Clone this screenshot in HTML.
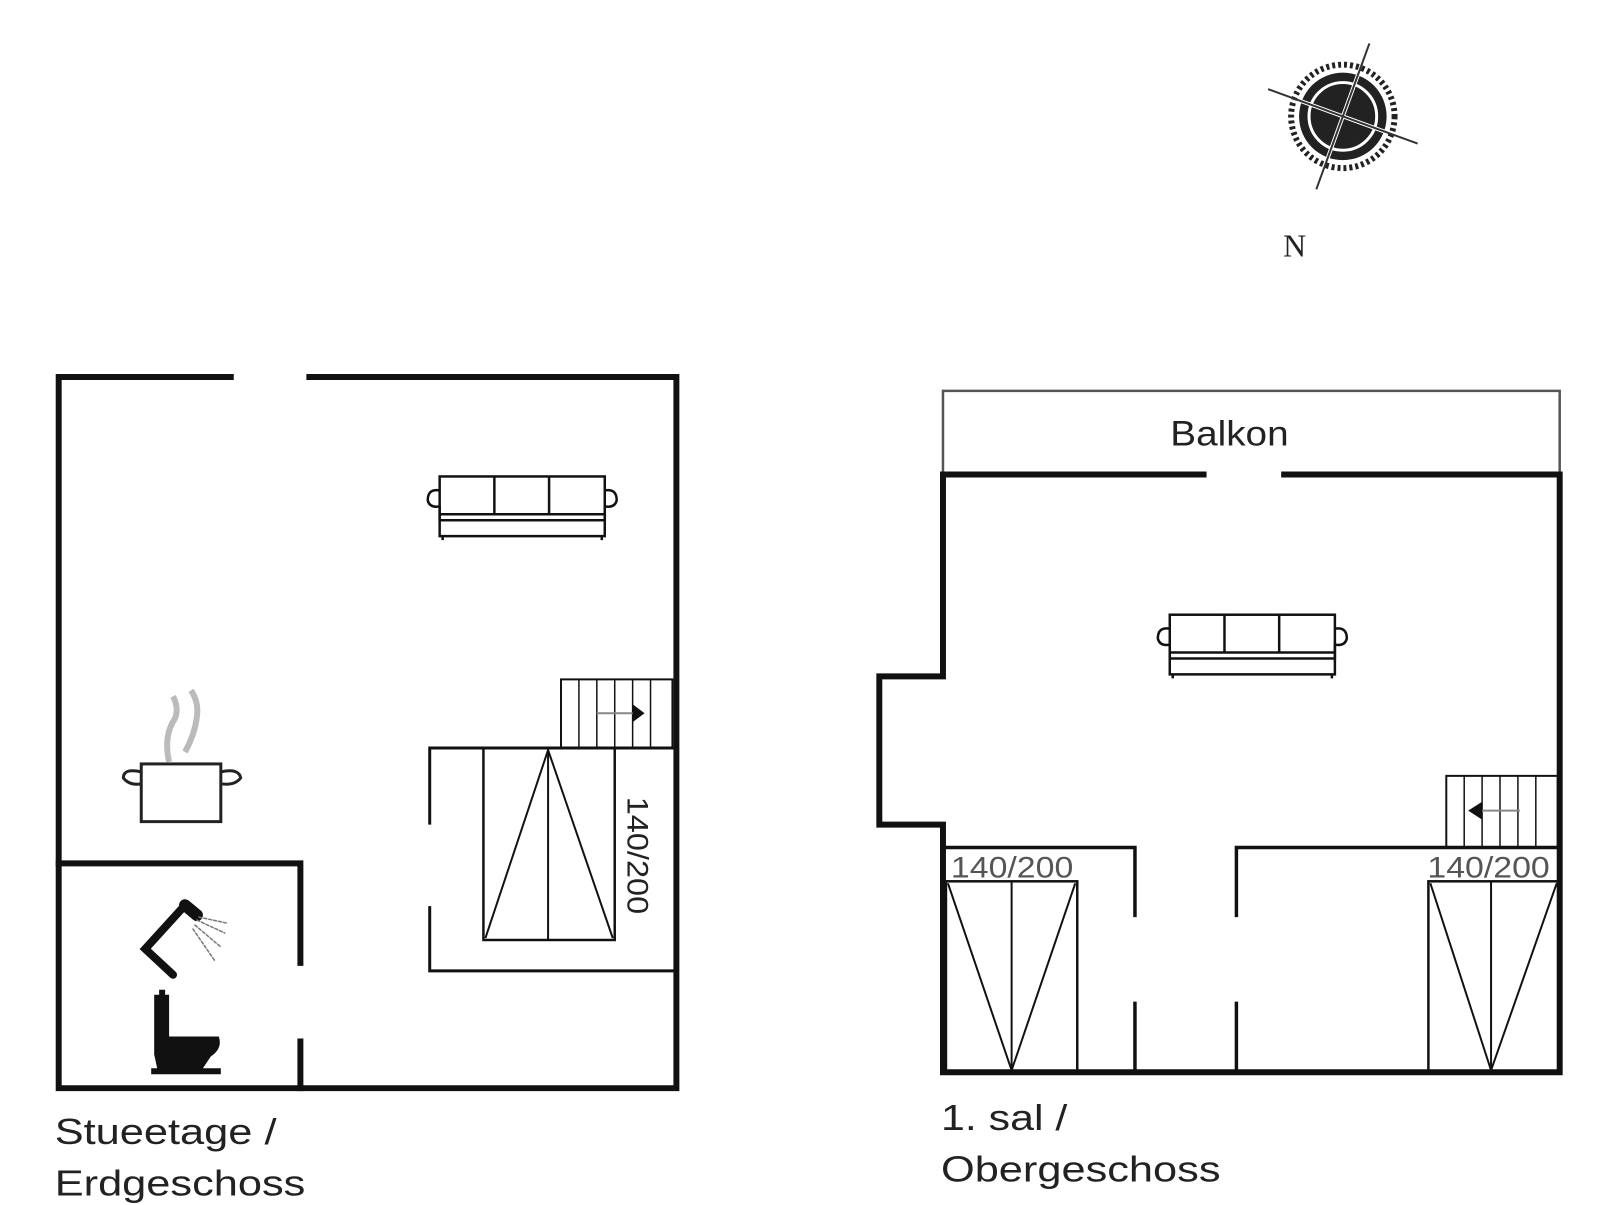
<!DOCTYPE html>
<html><head><meta charset="utf-8"><style>
html,body{margin:0;padding:0;background:#fff}
svg{display:block}
text{font-family:"Liberation Sans",sans-serif}
</style></head><body>
<svg width="1606" height="1205" viewBox="0 0 1606 1205" xmlns="http://www.w3.org/2000/svg">
<defs>
<g id="sofa" fill="none" stroke="#111" stroke-width="2.5">
  <rect x="12" y="0" width="166" height="44"/>
  <line x1="67" y1="0" x2="67" y2="38"/><line x1="122" y1="0" x2="122" y2="38"/>
  <line x1="12" y1="38" x2="178" y2="38"/>
  <path d="M12 14 Q0 12 0 24 Q2 32 12 30 M178 14 Q190 12 190 24 Q188 32 178 30"/>
  <path d="M12 30 L12 60 L178 60 L178 30"/>
  <line x1="15" y1="60" x2="15" y2="64"/><line x1="175" y1="60" x2="175" y2="64"/>
</g>
</defs>
<g transform="scale(0.9947)">
<!-- compass -->
<g transform="translate(1350,117)">
  <circle r="52" fill="none" stroke="#222" stroke-width="6" stroke-dasharray="3 3"/>
  <circle r="44" fill="#222"/>
  <circle r="34" fill="none" stroke="#fff" stroke-width="3"/>
  <g transform="rotate(20)" stroke="#fff" stroke-width="4">
    <line x1="0" y1="-44" x2="0" y2="44"/><line x1="-44" y1="0" x2="44" y2="0"/>
  </g>
  <g transform="rotate(20)" stroke="#333" stroke-width="2">
    <line x1="0" y1="-78" x2="0" y2="78"/><line x1="-80" y1="0" x2="80" y2="0"/>
  </g>
</g>
<text x="1290" y="258" font-size="32" fill="#222" style="font-family:'Liberation Serif',serif">N</text>

<!-- LEFT PLAN -->
<g stroke="#111" stroke-width="6" fill="none" stroke-linecap="square">
  <path d="M232 379 L59 379 L59 1094 L680 1094 L680 379 L311 379"/>
  <path d="M59 868 L302 868 L302 968 M302 1047 L302 1094"/>
</g>
<g stroke="#111" stroke-width="3" fill="none">
  <path d="M432 829 L432 752 L678 752 M432 911 L432 976 L678 976"/>
  <rect x="564" y="683" width="112" height="69" stroke-width="2"/>
  <line x1="582" y1="683" x2="582" y2="752" stroke-width="1.5"/>
  <line x1="600" y1="683" x2="600" y2="752" stroke-width="1.5"/>
  <line x1="618" y1="683" x2="618" y2="752" stroke-width="1.5"/>
  <line x1="636" y1="683" x2="636" y2="752" stroke-width="1.5"/>
  <line x1="654" y1="683" x2="654" y2="752" stroke-width="1.5"/>
  <line x1="600" y1="717" x2="638" y2="717" stroke="#888" stroke-width="2"/>
  <rect x="486" y="752" width="132" height="193" stroke-width="2.5"/>
  <line x1="551" y1="752" x2="551" y2="945" stroke-width="2"/>
  <path d="M488 943 L551 754 L616 943" stroke-width="2"/>
</g>
<polygon points="648,717 636,708 636,726" fill="#111"/>
<text transform="translate(631,801) rotate(90)" font-size="30" fill="#222" textLength="118" lengthAdjust="spacingAndGlyphs">140/200</text>
<use href="#sofa" x="430" y="479"/>
<!-- pot -->
<g stroke="#222" stroke-width="3" fill="none">
  <rect x="142" y="768" width="80" height="58"/>
  <path d="M142 776 Q124 772 124 782 Q130 790 142 788 M222 776 Q240 772 242 782 Q236 790 222 788"/>
  <path d="M170 766 Q164 740 176 722 Q180 712 174 700" stroke="#bbb" stroke-width="6"/>
  <path d="M186 756 Q196 738 198 720 Q200 706 192 694" stroke="#bbb" stroke-width="6"/>
</g>
<!-- shower -->
<g stroke="#111" fill="none" stroke-linecap="round">
  <path d="M174 980 L146 954 L186 910" stroke-width="8"/>
  <path d="M186 910 L198 920" stroke-width="12"/>
  <g stroke="#777" stroke-width="1.5" stroke-dasharray="3 2">
    <line x1="198" y1="925" x2="226" y2="938"/><line x1="196" y1="930" x2="222" y2="952"/>
    <line x1="194" y1="934" x2="216" y2="966"/><line x1="200" y1="922" x2="228" y2="928"/>
  </g>
</g>
<!-- toilet -->
<path d="M155 1000 L170 1000 L170 1042 L220 1042 Q224 1054 212 1062 L204 1074 L222 1074 L222 1080 L152 1080 L152 1074 L158 1074 L155 1060 Z" fill="#111"/>
<rect x="160" y="995" width="6" height="6" fill="#111"/>
<text x="55" y="1150" font-size="36" fill="#222" textLength="223" lengthAdjust="spacingAndGlyphs">Stueetage /</text>
<text x="55" y="1202" font-size="36" fill="#222" textLength="252" lengthAdjust="spacingAndGlyphs">Erdgeschoss</text>

<!-- RIGHT PLAN -->
<g stroke="#555" stroke-width="2.5" fill="none">
  <path d="M948 477 L948 393 L1568 393 L1568 477"/>
</g>
<text x="1236" y="448" font-size="35" fill="#222" text-anchor="middle" textLength="119" lengthAdjust="spacingAndGlyphs">Balkon</text>
<g stroke="#111" stroke-width="6" fill="none" stroke-linecap="square">
  <path d="M1210 477 L948 477 L948 680 L884 680 L884 829 L948 829 L948 1078 L1568 1078 L1568 477 L1291 477"/>
</g>
<g stroke="#111" stroke-width="3.5" fill="none">
  <path d="M948 852 L1141 852 L1141 922 M1141 1007 L1141 1078"/>
  <path d="M1243 922 L1243 852 L1566 852 M1243 1007 L1243 1078"/>
</g>
<use href="#sofa" x="1164" y="618"/>
<g stroke="#111" fill="none">
  <rect x="1454" y="780" width="112" height="72" stroke-width="2"/>
  <line x1="1472" y1="780" x2="1472" y2="852" stroke-width="1.5"/>
  <line x1="1490" y1="780" x2="1490" y2="852" stroke-width="1.5"/>
  <line x1="1508" y1="780" x2="1508" y2="852" stroke-width="1.5"/>
  <line x1="1526" y1="780" x2="1526" y2="852" stroke-width="1.5"/>
  <line x1="1544" y1="780" x2="1544" y2="852" stroke-width="1.5"/>
  <line x1="1488" y1="815" x2="1528" y2="815" stroke="#888" stroke-width="2"/>
  <rect x="951" y="886" width="132" height="192" stroke-width="2.5"/>
  <line x1="1017" y1="886" x2="1017" y2="1078" stroke-width="2"/>
  <path d="M953 888 L1017 1076 L1081 888" stroke-width="2"/>
  <rect x="1436" y="886" width="131" height="192" stroke-width="2.5"/>
  <line x1="1499" y1="886" x2="1499" y2="1078" stroke-width="2"/>
  <path d="M1438 888 L1499 1076 L1565 888" stroke-width="2"/>
</g>
<polygon points="1476,815 1490,806 1490,824" fill="#111"/>
<text x="956" y="882" font-size="30" fill="#555" textLength="123" lengthAdjust="spacingAndGlyphs">140/200</text>
<text x="1435" y="882" font-size="30" fill="#555" textLength="123" lengthAdjust="spacingAndGlyphs">140/200</text>
<text x="946" y="1136" font-size="36" fill="#222" textLength="127" lengthAdjust="spacingAndGlyphs">1. sal /</text>
<text x="946" y="1188" font-size="36" fill="#222" textLength="281" lengthAdjust="spacingAndGlyphs">Obergeschoss</text>
</g>
</svg>
</body></html>
